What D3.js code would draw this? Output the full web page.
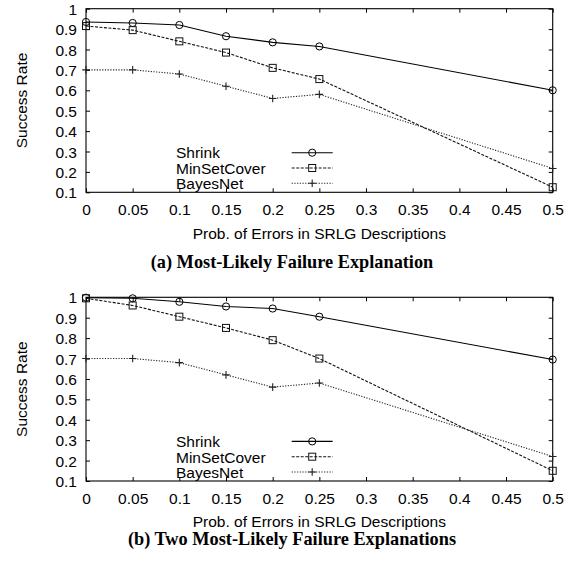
<!DOCTYPE html>
<html>
<head>
<meta charset="utf-8">
<script src="https://cdn.jsdelivr.net/npm/d3@7"></script>
<style>
  body { margin: 0; background: #fff; }
  svg { display: block; }
  .lbl { font-family: "Liberation Sans", Arial, sans-serif; font-size: 15.5px; fill: #000; }
  .cap { font-family: "Liberation Serif", "Times New Roman", serif; font-weight: bold; font-size: 18.3px; fill: #000; }
</style>
</head>
<body>
<svg id="chart" width="575" height="565"></svg>
<script>
/*** DATA ***/
const probs = [0, 0.05, 0.1, 0.15, 0.2, 0.25, 0.5];
const xTicks = [0, 0.05, 0.1, 0.15, 0.2, 0.25, 0.3, 0.35, 0.4, 0.45, 0.5];
const yTicks = [0.1, 0.2, 0.3, 0.4, 0.5, 0.6, 0.7, 0.8, 0.9, 1];
const seriesNames = ["Shrink", "MinSetCover", "BayesNet"];

// (a) most-likely explanation
const shrinkA = [0.935, 0.93, 0.92, 0.865, 0.835, 0.815, 0.60];
const minSetA = [0.915, 0.895, 0.84, 0.785, 0.71, 0.655, 0.125];
const bayesA  = [0.70, 0.70, 0.68, 0.62, 0.56, 0.58, 0.217];

// (b) two most-likely explanations
const shrinkB = [0.998, 0.995, 0.978, 0.955, 0.945, 0.905, 0.695];
const minSetB = [0.995, 0.96, 0.905, 0.85, 0.79, 0.70, 0.15];
const bayesB  = [0.70, 0.70, 0.68, 0.62, 0.56, 0.58, 0.22];

const yTitle = "Success Rate";
const xTitle = "Prob. of Errors in SRLG Descriptions";
const captions = ["(a) Most-Likely Failure Explanation", "(b) Two Most-Likely Failure Explanations"];

/*** STYLE ***/
const styles = [
  {dash: null,      col: "#000", mark: "circle"},
  {dash: "3,1.5",   col: "#111", mark: "square"},
  {dash: "1.2,1.5", col: "#222", mark: "plus"}
];

const svg = d3.select("#chart");
const left = 86, right = 552.7, tick = 4;

function drawMarker(g, type, x, y, col) {
  if (type == "circle") {
    g.append("circle").attr("cx", x).attr("cy", y).attr("r", 3.6)
      .attr("fill", "none").attr("stroke", col).attr("stroke-width", 1);
  } else if (type == "square") {
    g.append("rect").attr("x", x - 3.5).attr("y", y - 3.5).attr("width", 7).attr("height", 7)
      .attr("fill", "none").attr("stroke", col).attr("stroke-width", 1);
  } else {
    g.append("path").attr("d", `M${x-3.8},${y}H${x+3.8}M${x},${y-3.8}V${y+3.8}`)
      .attr("stroke", col).attr("stroke-width", 1.1);
  }
}

function drawPanel(top, bottom, series, caption, titleBase, capBase) {
  const g = svg.append("g");
  const x = d3.scaleLinear().domain([0, 0.5]).range([left, right]);
  const y = d3.scaleLinear().domain([0.1, 1]).range([bottom, top]);

  // ticks (inward, mirrored)
  g.append("g").attr("transform", `translate(0,${bottom})`)
    .call(d3.axisBottom(x).tickValues(xTicks).tickSizeInner(-tick).tickSizeOuter(0).tickFormat(d3.format("")))
    .call(a => a.select(".domain").remove())
    .call(a => a.selectAll("text").attr("class", "lbl").attr("y", 22.5).attr("dy", 0).attr("font-size", null).attr("font-family", null));
  g.append("g").attr("transform", `translate(0,${top})`)
    .call(d3.axisTop(x).tickValues(xTicks).tickSizeInner(-tick).tickSizeOuter(0).tickFormat(""))
    .call(a => a.select(".domain").remove());
  g.append("g").attr("transform", `translate(${left},0)`)
    .call(d3.axisLeft(y).tickValues(yTicks).tickSizeInner(-tick).tickSizeOuter(0).tickFormat(d3.format("")))
    .call(a => a.select(".domain").remove())
    .call(a => a.selectAll("text").attr("class", "lbl").attr("x", -9).attr("dy", "0.36em").attr("font-size", null).attr("font-family", null));
  g.append("g").attr("transform", `translate(${right},0)`)
    .call(d3.axisRight(y).tickValues(yTicks).tickSizeInner(-tick).tickSizeOuter(0).tickFormat(""))
    .call(a => a.select(".domain").remove());
  g.selectAll(".tick line").attr("stroke", "#000");

  // frame
  g.append("rect").attr("x", left).attr("y", top).attr("width", right - left).attr("height", bottom - top)
    .attr("fill", "none").attr("stroke", "#000").attr("stroke-width", 1.1);

  // legend
  const legX0 = 291.7, legX1 = 332.7, legTxt = 176;
  const legLineOff = [39.6, 24.3, 9], legTxtOff = [34.3, 18.5, 3];

  series.forEach((vals, i) => {
    const st = styles[i];
    const line = d3.line().x((d, j) => x(probs[j])).y(d => y(d));
    g.append("path").datum(vals).attr("d", line)
      .attr("fill", "none").attr("stroke", st.col).attr("stroke-width", 1.1)
      .attr("stroke-dasharray", st.dash);
    vals.forEach((v, j) => drawMarker(g, st.mark, x(probs[j]), y(v), st.col));

    const ly = bottom - legLineOff[i];
    g.append("line").attr("x1", legX0).attr("x2", legX1).attr("y1", ly).attr("y2", ly)
      .attr("stroke", st.col).attr("stroke-width", 1.1).attr("stroke-dasharray", st.dash);
    drawMarker(g, st.mark, (legX0 + legX1) / 2, ly, st.col);
    g.append("text").attr("class", "lbl").attr("x", legTxt).attr("y", bottom - legTxtOff[i]).text(seriesNames[i]);
  });

  // titles
  g.append("text").attr("class", "lbl").attr("text-anchor", "middle")
    .attr("transform", `translate(27,${(top + bottom) / 2}) rotate(-90)`).text(yTitle);
  g.append("text").attr("class", "lbl").attr("text-anchor", "middle")
    .attr("x", (left + right) / 2).attr("y", titleBase).text(xTitle);
  g.append("text").attr("class", "cap").attr("text-anchor", "middle")
    .attr("x", 292).attr("y", capBase).text(caption);
}

drawPanel(8.7, 192.3, [shrinkA, minSetA, bayesA], captions[0], 239, 268.3);
drawPanel(297.3, 481, [shrinkB, minSetB, bayesB], captions[1], 526.7, 545.3);
</script>
</body>
</html>
